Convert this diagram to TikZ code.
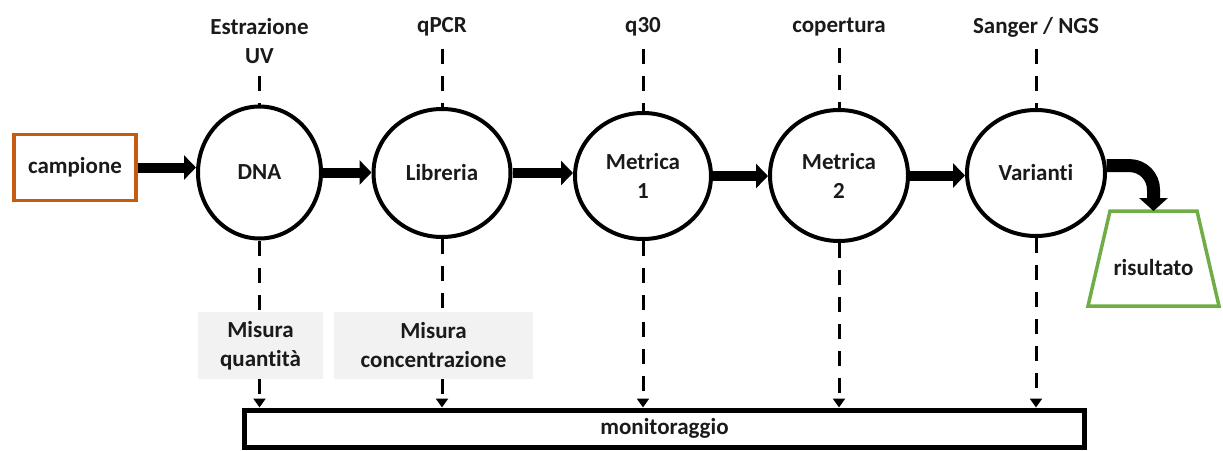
\documentclass[tikz,border=0pt]{standalone}
\usepackage{fontspec}
\setmainfont{Carlito}[Ligatures=NoCommon]
\usetikzlibrary{arrows.meta,shapes.geometric}
\definecolor{campOrange}{HTML}{C55A11}
\definecolor{resGreen}{HTML}{70AD47}
\definecolor{noteGray}{HTML}{F2F2F2}
\definecolor{ink}{HTML}{1A1A1A}
\begin{document}
\begin{tikzpicture}[x=1pt,y=-1pt,
  lbl/.style={font=\fontsize{23}{29}\selectfont\bfseries, text=ink, align=center},
  stage/.style={lbl, ellipse, draw=black, line width=4pt, inner sep=0pt},
  flow/.style={line width=10pt, -{Triangle[length=12pt,width=24pt]}},
  probe/.style={line width=3pt, dash pattern=on 15pt off 12pt},
  feed/.style={probe, -{Triangle[length=9pt,width=12pt]}},
  note/.style={lbl, fill=noteGray, inner sep=0pt},
  toplbl/.style={lbl, inner sep=12pt},
]
\useasboundingbox (0,0) rectangle (1223,450);

% input and processing stages
\node[lbl, draw=campOrange, line width=3.5pt, minimum width=122pt,
      minimum height=66pt, inner sep=0pt] (camp) at (75,167.5) {campione};
\node[stage, minimum width=123pt, minimum height=132pt] (dna) at (259.5,172.5) {DNA};
\node[stage, minimum width=137pt, minimum height=128pt] (lib) at (442,173) {Libreria};
\node[stage, minimum width=136pt, minimum height=126pt] (m1) at (643,176) {Metrica\\1};
\node[stage, minimum width=138pt, minimum height=131pt] (m2) at (839,175.5) {Metrica\\2};
\node[stage, minimum width=138pt, minimum height=126pt] (var) at (1036,173) {Varianti};

% final result: text box raised so the word sits low, outline drawn as a trapezoid
\node[lbl, minimum width=131pt, minimum height=95pt, inner sep=2pt, outer sep=0pt,
      text height=33pt, text depth=0pt] (res) at (1153.5,258.5) {risultato};
\draw[resGreen, line width=3.5pt, line join=miter]
  ([xshift=22pt]res.north west) -- ([xshift=-22pt]res.north east)
  -- (res.south east) -- (res.south west) -- cycle;

% monitoring bar
\node[lbl, draw=black, line width=5pt, minimum width=840pt, minimum height=37pt,
      inner sep=0pt] (mon) at (664.5,428.5) {monitoraggio};

% measurement notes
\node[note, minimum width=125pt, minimum height=67pt] (mq) at (260.5,345.5) {Misura\\quantità};
\node[note, minimum width=199pt, minimum height=67pt] (mc) at (433.5,345.5) {Misura\\concentrazione};

% control labels
\node[toplbl] (tE) at (259.5,41) {Estrazione\\UV};
\node[toplbl] (tQ) at (442,27) {qPCR};
\node[toplbl] (t30) at (643,27) {q30};
\node[toplbl] (tC) at (839,27) {copertura};
\node[toplbl] (tS) at (1036,27) {Sanger / NGS};

% controls feeding the stages
\draw[probe] (dna.north |- tE.south) -- (dna.north);
\draw[probe] (lib.north |- tQ.south) -- (lib.north);
\draw[probe] (m1.north |- t30.south) -- (m1.north);
\draw[probe] (m2.north |- tC.south) -- (m2.north);
\draw[probe] (var.north |- tS.south) -- (var.north);

% stages reporting to monitoring
\draw[probe] (dna.south) -- (dna.south |- mq.north);
\draw[feed] (dna.south |- mq.south) -- (dna.south |- mon.north);
\draw[probe] (lib.south) -- (lib.south |- mc.north);
\draw[feed] (lib.south |- mc.south) -- (lib.south |- mon.north);
\draw[feed] (m1.south) -- (m1.south |- mon.north);
\draw[feed] (m2.south) -- (m2.south |- mon.north);
\draw[feed] (var.south) -- (var.south |- mon.north);

% main flow
\draw[flow] (camp.east) -- (camp.east -| dna.west);
\draw[flow] (dna.east) -- (dna.east -| lib.west);
\draw[flow] (lib.east) -- (lib.east -| m1.west);
\draw[flow] (m1.east) -- (m1.east -| m2.west);
\draw[flow] (m2.east) -- (m2.east -| var.west);
\draw[flow, line width=13pt, -{Triangle[length=13pt,width=28pt]}, rounded corners=24pt]
  (var.6) -| (res.north);
\end{tikzpicture}
\end{document}
